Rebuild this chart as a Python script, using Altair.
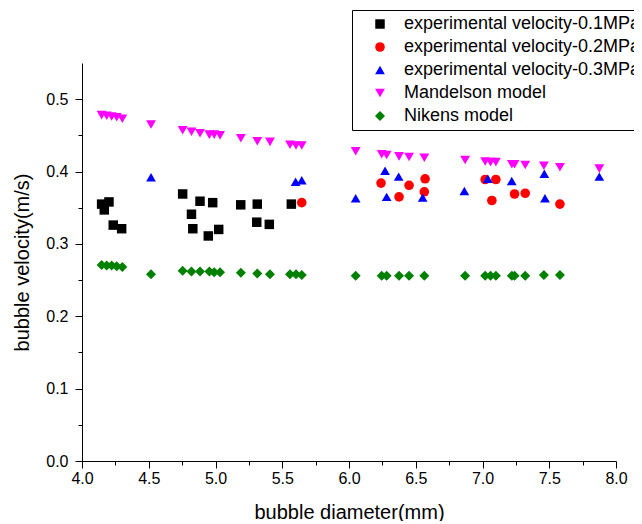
import altair as alt
import pandas as pd

series_names = [
    "experimental velocity-0.1MPa",
    "experimental velocity-0.2MPa",
    "experimental velocity-0.3MPa",
    "Mandelson model",
    "Nikens model",
]

x_01 = [4.147, 4.167, 4.202, 4.234, 4.297, 4.754, 4.82, 4.83, 4.884, 4.946,
        4.979, 5.024, 5.189, 5.313, 5.309, 5.403, 5.568]
y_01 = [0.355, 0.347, 0.358, 0.326, 0.321, 0.369, 0.341, 0.321, 0.359, 0.311,
        0.357, 0.320, 0.354, 0.355, 0.330, 0.327, 0.355]

x_02 = [5.646, 6.24, 6.375, 6.45, 6.57, 6.564, 7.02, 7.07, 7.10, 7.24, 7.32, 7.58]
y_02 = [0.357, 0.384, 0.365, 0.381, 0.390, 0.372, 0.389, 0.360, 0.389, 0.369, 0.370, 0.355]

x_03 = [4.517, 5.60, 5.646, 6.05, 6.27, 6.282, 6.372, 6.552, 6.864, 7.04, 7.219,
        7.463, 7.468, 7.875]
y_03 = [0.392, 0.386, 0.388, 0.363, 0.401, 0.365, 0.393, 0.364, 0.373, 0.390, 0.387,
        0.397, 0.363, 0.393]

x_mand = [4.147, 4.185, 4.222, 4.26, 4.302, 4.517, 4.754, 4.82, 4.884, 4.954, 4.99,
          5.034, 5.19, 5.313, 5.408, 5.558, 5.603, 5.646, 6.05, 6.245, 6.282, 6.375,
          6.45, 6.564, 6.87, 7.02, 7.06, 7.10, 7.22, 7.24, 7.32, 7.46, 7.58, 7.875]
y_mand = [0.478, 0.477, 0.476, 0.475, 0.473, 0.465, 0.457, 0.455, 0.453, 0.451, 0.451,
          0.450, 0.446, 0.442, 0.441, 0.437, 0.436, 0.436, 0.428, 0.424, 0.423, 0.421,
          0.420, 0.419, 0.416, 0.414, 0.413, 0.413, 0.410, 0.410, 0.409, 0.408, 0.406, 0.404]

x_nik = [4.147, 4.185, 4.222, 4.26, 4.302, 4.517, 4.754, 4.82, 4.884, 4.954, 4.99,
         5.034, 5.19, 5.313, 5.408, 5.558, 5.603, 5.646, 6.05, 6.245, 6.282, 6.375,
         6.45, 6.564, 6.87, 7.02, 7.06, 7.10, 7.22, 7.24, 7.32, 7.46, 7.58]
y_nik = [0.271, 0.270, 0.270, 0.269, 0.268, 0.258, 0.263, 0.262, 0.262, 0.262, 0.261,
         0.261, 0.260, 0.259, 0.258, 0.258, 0.258, 0.257, 0.256, 0.256, 0.256, 0.256,
         0.256, 0.256, 0.256, 0.256, 0.256, 0.256, 0.256, 0.256, 0.256, 0.257, 0.257]

colors = ["#000000", "#ff0000", "#0000ff", "#ff00ff", "#008000"]
shapes = ["square", "circle", "triangle-up", "triangle-down", "diamond"]
sizes = [90, 100, 150, 170, 120]

x_ticks = [4.0 + 0.25 * i for i in range(17)]
y_ticks = [round(0.05 * i, 2) for i in range(11)]

rows = []
for name, xs, ys in zip(series_names, [x_01, x_02, x_03, x_mand, x_nik],
                        [y_01, y_02, y_03, y_mand, y_nik]):
    for xv, yv in zip(xs, ys):
        rows.append({"d": xv, "v": yv, "series": name})
df = pd.DataFrame(rows)

FONT = "Liberation Sans"
major_x = "abs(datum.value*2 - round(datum.value*2)) < 0.001"
major_y = "abs(datum.value*10 - round(datum.value*10)) < 0.001"

legend = alt.Legend(
    title=None, orient="none", legendX=270, legendY=-53,
    strokeColor="#000000", fillColor="#ffffff", padding=5,
    labelFont=FONT, labelFontSize=18, labelColor="#000000",
    symbolOffset=14, labelOffset=15, rowPadding=5, symbolStrokeWidth=0,
    labelLimit=400,
)

chart = alt.Chart(df).mark_point(filled=True, opacity=1, strokeWidth=0).encode(
    x=alt.X("d:Q", scale=alt.Scale(domain=[4, 8], nice=False, zero=False),
            axis=alt.Axis(title="bubble diameter(mm)", values=x_ticks, format=".1f",
                          labelExpr=f"{major_x} ? datum.label : ''",
                          tickSize={"condition": {"test": major_x, "value": 7}, "value": 4},
                          grid=False, labelOverlap=False, labelFlush=False,
                          domainColor="#000000", tickColor="#000000",
                          labelFont=FONT, labelFontSize=16, labelColor="#000000",
                          labelPadding=2, titleFont=FONT, titleFontSize=20,
                          titleFontWeight="normal", titleColor="#000000", titlePadding=16)),
    y=alt.Y("v:Q", scale=alt.Scale(domain=[0, 0.55], nice=False),
            axis=alt.Axis(title="bubble velocity(m/s)", values=y_ticks, format=".1f",
                          labelExpr=f"{major_y} ? datum.label : ''",
                          tickSize={"condition": {"test": major_y, "value": 7}, "value": 4},
                          grid=False, labelOverlap=False,
                          domainColor="#000000", tickColor="#000000",
                          labelFont=FONT, labelFontSize=16, labelColor="#000000",
                          labelPadding=7, titleFont=FONT, titleFontSize=20,
                          titleFontWeight="normal", titleColor="#000000", titlePadding=13)),
    color=alt.Color("series:N", scale=alt.Scale(domain=series_names, range=colors), legend=legend),
    shape=alt.Shape("series:N", scale=alt.Scale(domain=series_names, range=shapes), legend=legend),
    size=alt.Size("series:N", scale=alt.Scale(domain=series_names, range=sizes), legend=legend),
    order=alt.Order("series:N"),
).properties(
    width=534, height=398,
    autosize=alt.AutoSizeParams(type="none"),
    padding={"left": 74, "top": 55, "right": 18, "bottom": 60},
).configure_view(stroke=None)

chart.save("out.html", embed_options={"renderer": "svg", "actions": False})
